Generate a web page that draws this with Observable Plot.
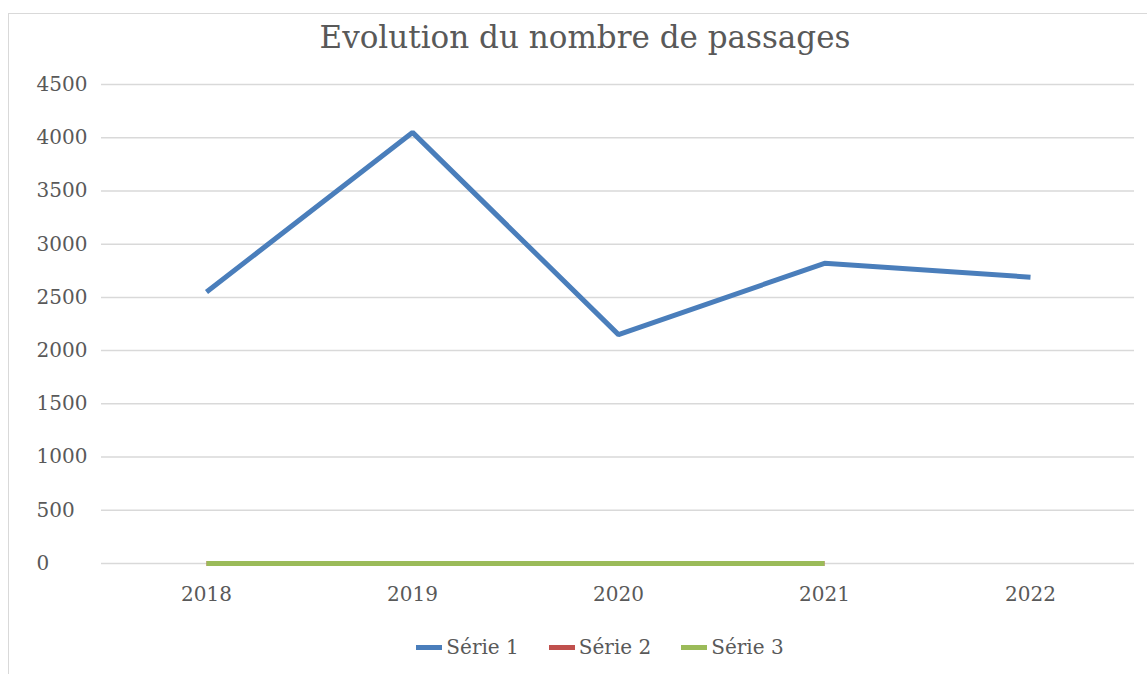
<!DOCTYPE html>
<html>
<head>
<meta charset="utf-8">
<script src="https://cdn.jsdelivr.net/npm/d3@7"></script>
<script src="https://cdn.jsdelivr.net/npm/@observablehq/plot@0.6"></script>
<style>
  html, body { margin: 0; padding: 0; background: #fff; }
  #wrap { position: relative; width: 1147px; height: 674px; overflow: hidden; font-family: "DejaVu Serif", serif; }
  #frame { position: absolute; left: 8px; top: 13px; width: 1200px; height: 700px; border-left: 1px solid #d9d9d9; border-top: 1px solid #d9d9d9; }
  #title { position: absolute; left: 0; width: 1170px; top: 22px; text-align: center; font-size: 31px; line-height: 1; color: #595959; }
  #chart { position: absolute; left: 0; top: 60px; }
  #legend { position: absolute; left: 0; width: 1200px; top: 634px; display: flex; justify-content: center; font-size: 20px; line-height: 26px; color: #595959; }
  .item { display: flex; align-items: center; margin: 0 15px; }
  .sw { width: 26px; height: 5px; margin-right: 4px; }
</style>
</head>
<body>
<div id="wrap">
  <div id="frame"></div>
  <div id="title">Evolution du nombre de passages</div>
  <div id="chart"></div>
  <div id="legend"></div>
</div>
<script>
const years = ["2018", "2019", "2020", "2021", "2022"];
const serie1 = [2550, 4050, 2150, 2820, 2690];
const serie2 = [0, 0, 0, 0, null];
const serie3 = [0, 0, 0, 0, null];
const yTicks = [0, 500, 1000, 1500, 2000, 2500, 3000, 3500, 4000, 4500];
const seriesNames = ["Série 1", "Série 2", "Série 3"];
const seriesColors = ["#4a7ebb", "#c0504d", "#9bbb59"];

const rows = (vals, name) => years.map((y, i) => ({year: y, value: vals[i], serie: name}));
const d1 = rows(serie1, seriesNames[0]);
const d2 = rows(serie2, seriesNames[1]).filter(d => d.value != null);
const d3s = rows(serie3, seriesNames[2]).filter(d => d.value != null);

const plot = Plot.plot({
  width: 1147,
  height: 560,
  marginLeft: 101,
  marginRight: 13,
  marginTop: 24,
  marginBottom: 57,
  style: { fontFamily: "DejaVu Serif", fontSize: "20px", color: "#595959", background: "transparent" },
  x: { type: "point", domain: years, padding: 0.5, label: null },
  y: { domain: [0, 4500], label: null },
  marks: [
    Plot.gridY(yTicks, { stroke: "#d9d9d9", strokeOpacity: 1, strokeWidth: 1.5 }),
    Plot.axisY(yTicks, { tickSize: 0, tickPadding: 65, textAnchor: "start", tickFormat: d => String(d), fill: "#595959" }),
    Plot.axisX({ tickSize: 0, tickPadding: 23, fill: "#595959" }),
    Plot.line(d1, { x: "year", y: "value", stroke: seriesColors[0], strokeWidth: 5, strokeLinejoin: "miter", strokeLinecap: "butt" }),
    Plot.line(d2, { x: "year", y: "value", stroke: seriesColors[1], strokeWidth: 5, strokeLinecap: "butt" }),
    Plot.line(d3s, { x: "year", y: "value", stroke: seriesColors[2], strokeWidth: 5, strokeLinecap: "butt" })
  ]
});
document.getElementById("chart").appendChild(plot);

const legend = document.getElementById("legend");
seriesNames.forEach((n, i) => {
  const it = document.createElement("div");
  it.className = "item";
  const sw = document.createElement("div");
  sw.className = "sw";
  sw.style.background = seriesColors[i];
  const t = document.createElement("span");
  t.textContent = n;
  it.appendChild(sw); it.appendChild(t);
  legend.appendChild(it);
});
</script>
</body>
</html>
